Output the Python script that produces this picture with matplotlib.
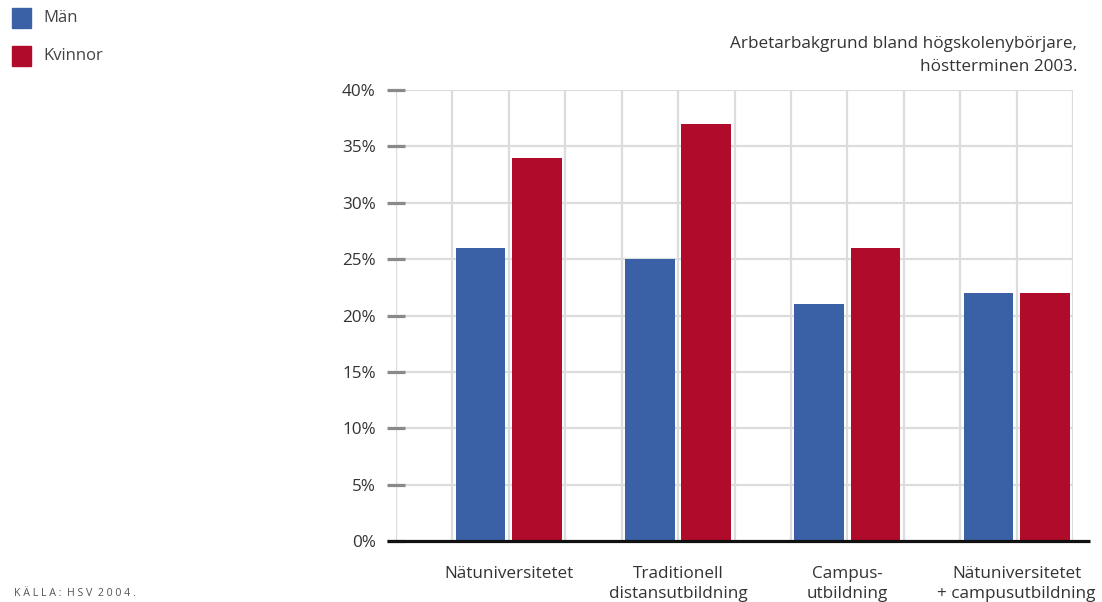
import matplotlib
matplotlib.use("Agg")
import matplotlib.pyplot as plt
import matplotlib.transforms as mtransforms
import numpy as np

categories = ["Nätuniversitetet", "Traditionell\ndistansutbildning", "Campus-\nutbildning", "Nätuniversitetet\n+ campusutbildning"]
man = [26, 25, 21, 22]
kvinnor = [34, 37, 26, 22]
series_names = ["Män", "Kvinnor"]
y_ticks = [0, 5, 10, 15, 20, 25, 30, 35, 40]
y_labels = ["0%", "5%", "10%", "15%", "20%", "25%", "30%", "35%", "40%"]
title = "Arbetarbakgrund bland högskolenybörjare,\nhöstterminen 2003."
source = "KÄLLA: HSV 2004."

BLUE = "#3A60A6"
RED = "#B10B2B"
GRID = "#DCDCDC"
TXT = "#333333"

plt.rcParams['font.family'] = ['Open Sans', 'DejaVu Sans']

fig = plt.figure(figsize=(11.02, 6.02), dpi=100)
ax = fig.add_axes([396/1102, 1-541/602, 677/1102, 451/602])

n = len(categories)
x = np.arange(n) * 3
w = 0.88
ax.bar(x + 1.5, man, width=w, color=BLUE, zorder=3, label=series_names[0])
ax.bar(x + 2.5, kvinnor, width=w, color=RED, zorder=3, label=series_names[1])

ax.set_xlim(0, 3 * n)
ax.set_ylim(0, 40)
for v in range(0, 3 * n + 1):
    ax.axvline(v, color=GRID, lw=1.6, zorder=1)
for t in y_ticks[1:]:
    ax.axhline(t, color=GRID, lw=1.6, zorder=1)

for s in ax.spines.values():
    s.set_visible(False)

ax.set_yticks(y_ticks)
ax.set_yticklabels(y_labels, fontsize=12.3, color=TXT)
ax.tick_params(axis='y', direction='inout', length=13, width=2.3, color="#8A8A8A", pad=8)
ax.set_xticks(x + 2)
ax.set_xticklabels(categories, fontsize=12.3, color=TXT, linespacing=1.3, va='top')
ax.tick_params(axis='x', length=0, pad=18)

trans = mtransforms.blended_transform_factory(ax.transAxes, ax.transData)
ax.plot([-0.0133, 1.025], [0, 0], color="#111111", lw=2.3, transform=trans, clip_on=False, zorder=4, solid_capstyle='butt')

fig.text(1077/1102, 1-36/602, title, ha='right', va='top', fontsize=12.3, color=TXT, linespacing=1.6)

# legend
for i, (name, col) in enumerate(zip(series_names, [BLUE, RED])):
    yc = 18 + i * 38
    fig.patches.append(plt.Rectangle((12/1102, 1-(yc+9.5)/602), 19/1102, 19/602, transform=fig.transFigure, color=col, figure=fig))
    fig.text(43/1102, 1-yc/602, name, ha='left', va='center', fontsize=12, color="#444444")

spaced_source = " ".join(list(source)).replace("   ", "  ")
fig.text(14/1102, 1-593/602, spaced_source, ha='left', va='center', fontsize=7.7, color="#555555")

fig.savefig("out.png", dpi=100)
